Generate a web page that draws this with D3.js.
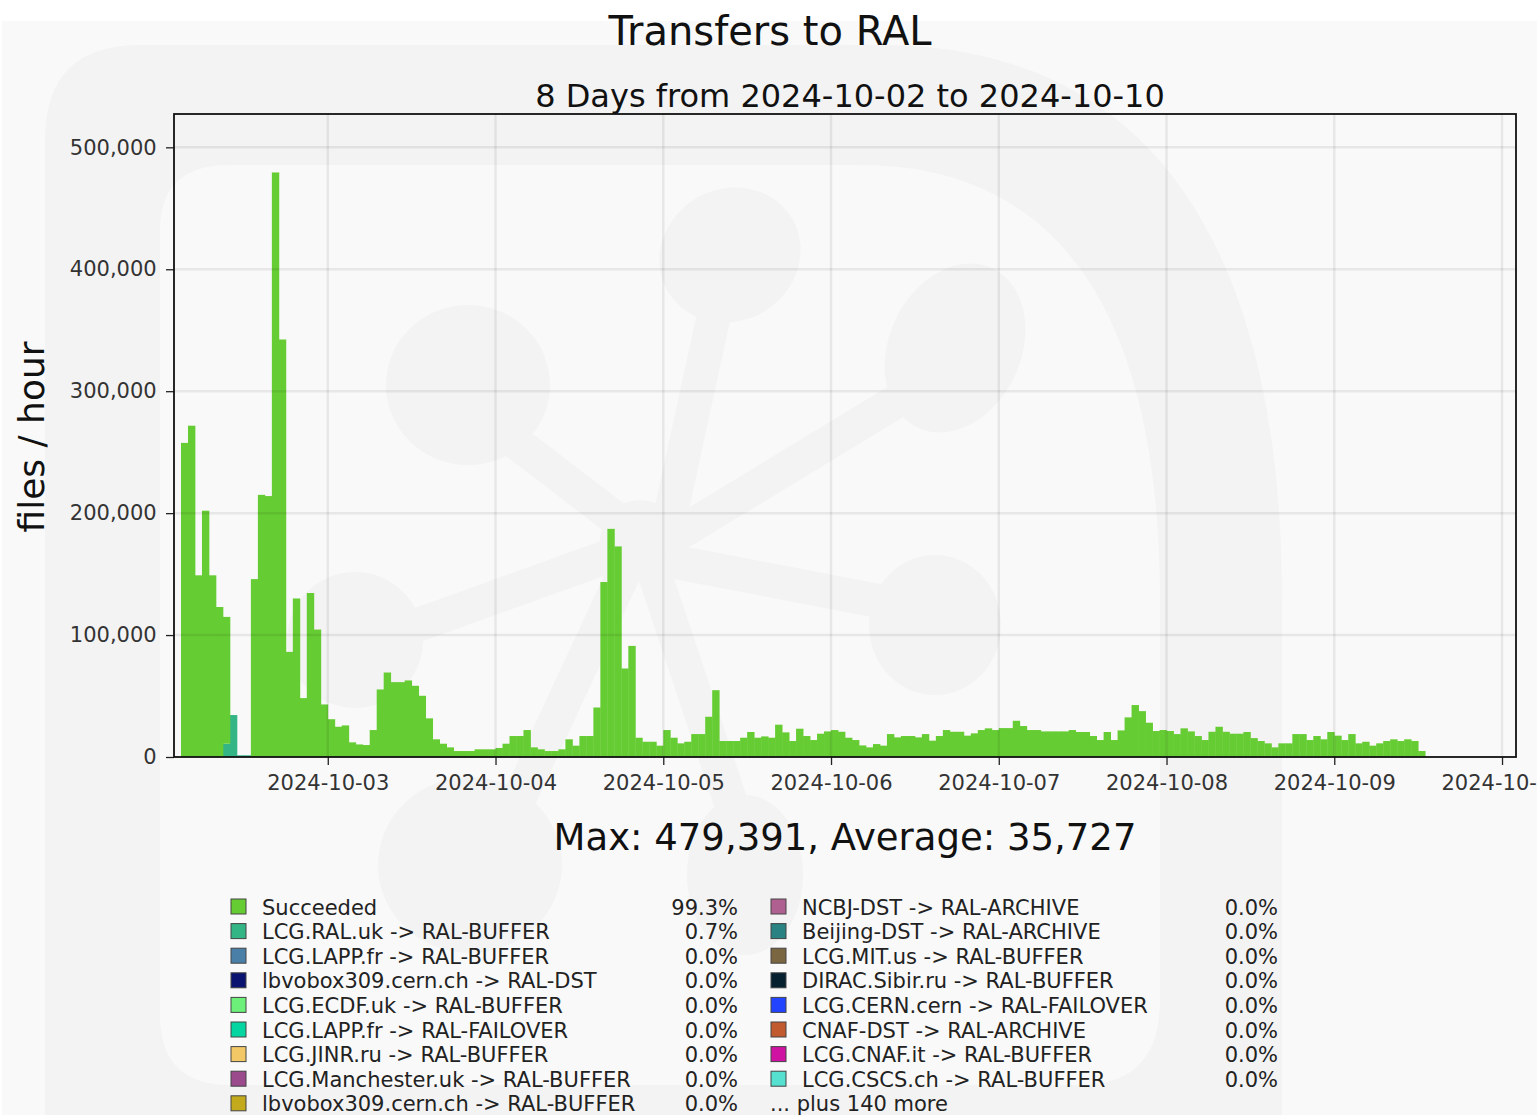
<!DOCTYPE html>
<html>
<head>
<meta charset="utf-8">
<script src="https://cdn.jsdelivr.net/npm/d3@7"></script>
<style>
  body { margin: 0; background: #fff; }
  svg { display: block; font-family: "DejaVu Sans", sans-serif; }
</style>
</head>
<body>
<div id="chart"></div>
<script>
// hourly bins, first bin starts 2024-10-02 03:00 UTC
const firstHour = '2024-10-02T03:00';
const succeeded = [
  257600, 271700, 149000, 202000, 149000, 123000, 104000, 0, 0, 0,
  145900, 215000, 214000, 479391, 342400, 86200, 130000, 48300, 134500, 104500,
  43100, 31000, 24800, 25900, 12000, 10300, 9800, 22100, 55400, 69300,
  61400, 61400, 62800, 58400, 50200, 31700, 14500, 10900, 7900, 4900,
  4900, 4900, 6300, 6300, 6300, 7400, 10900, 17200, 17200, 22100,
  7900, 6300, 4900, 4900, 6300, 14500, 9300, 17200, 17200, 40600,
  143500, 187100, 172700, 72600, 91100, 15800, 12500, 12500, 9300, 22100,
  15800, 11200, 12500, 18800, 18800, 33000, 54800, 13100, 13100, 13100,
  15800, 20500, 15800, 16900, 15800, 26500, 20200, 13100, 23200, 17200,
  13900, 19100, 21000, 22100, 20700, 15800, 13900, 9500, 7900, 10600,
  9300, 18800, 16100, 17200, 17200, 16100, 18800, 13400, 17200, 22100,
  20700, 20700, 17500, 19400, 22100, 23500, 22100, 23700, 23700, 29700,
  25400, 22100, 22100, 21000, 21000, 21000, 21000, 22100, 20500, 20500,
  17200, 13900, 20500, 13900, 21800, 32500, 42600, 37600, 28100, 21300,
  22100, 21300, 18800, 23500, 21000, 17200, 13900, 20700, 24800, 20700,
  19100, 19100, 20500, 15500, 13100, 11200, 7900, 11200, 11200, 18800,
  18800, 13900, 17200, 14500, 20500, 17500, 13900, 18800, 11200, 12500,
  9300, 11200, 13100, 14500, 13100, 14500, 13100, 4900
];
// LCG.RAL.uk -> RAL-BUFFER, only non-zero hours
const ralBufferHours = ['2024-10-02T09:00', '2024-10-02T10:00', '2024-10-02T11:00', '2024-10-02T12:00'];
const ralBuffer = [10900, 34400, 1400, 1400];

const yTicks = [0, 100000, 200000, 300000, 400000, 500000];
const maxValue = 479391, avgValue = 35727;

const legendLeft = [
  ['Succeeded', '99.3%', '#66cc33'],
  ['LCG.RAL.uk -> RAL-BUFFER', '0.7%', '#33b585'],
  ['LCG.LAPP.fr -> RAL-BUFFER', '0.0%', '#4a7fa8'],
  ['lbvobox309.cern.ch -> RAL-DST', '0.0%', '#0a1470'],
  ['LCG.ECDF.uk -> RAL-BUFFER', '0.0%', '#6cf07a'],
  ['LCG.LAPP.fr -> RAL-FAILOVER', '0.0%', '#05d5a0'],
  ['LCG.JINR.ru -> RAL-BUFFER', '0.0%', '#f2c866'],
  ['LCG.Manchester.uk -> RAL-BUFFER', '0.0%', '#9b4a8c'],
  ['lbvobox309.cern.ch -> RAL-BUFFER', '0.0%', '#c2aa1c']
];
const legendRight = [
  ['NCBJ-DST -> RAL-ARCHIVE', '0.0%', '#b06090'],
  ['Beijing-DST -> RAL-ARCHIVE', '0.0%', '#2a8282'],
  ['LCG.MIT.us -> RAL-BUFFER', '0.0%', '#7a6640'],
  ['DIRAC.Sibir.ru -> RAL-BUFFER', '0.0%', '#06202f'],
  ['LCG.CERN.cern -> RAL-FAILOVER', '0.0%', '#2244ff'],
  ['CNAF-DST -> RAL-ARCHIVE', '0.0%', '#c25a30'],
  ['LCG.CNAF.it -> RAL-BUFFER', '0.0%', '#d012a2'],
  ['LCG.CSCS.ch -> RAL-BUFFER', '0.0%', '#55e0d0']
];

const W = 1537, H = 1115;
const margin = { top: 114, right: 21, bottom: 358, left: 174 };
const pw = W - margin.left - margin.right, ph = H - margin.top - margin.bottom;

const parse = d3.utcParse('%Y-%m-%dT%H:%M');
const t0 = parse(firstHour);
const rows = succeeded.map((v, i) => ({ t: d3.utcHour.offset(t0, i), ok: v, ral: 0 }));
ralBufferHours.forEach((h, i) => {
  const r = rows.find(d => +d.t === +parse(h));
  if (r) r.ral = ralBuffer[i];
});

const svg = d3.select('#chart').append('svg')
    .attr('width', W)
    .attr('height', H);

// background + faint logo watermark
svg.append('rect').attr('width', W).attr('height', H).attr('fill', '#ffffff');
svg.append('rect').attr('x', 2).attr('y', 21).attr('width', W - 2).attr('height', H - 21).attr('fill', '#f9f9f9');
const wmColor = '#f3f3f3';
const wm = svg.append('g').attr('fill', wmColor).attr('stroke', 'none');
wm.append('path')
    .attr('fill-rule', 'evenodd')
    .attr('d', 'M45,140 Q45,45 140,45 L880,45 C1160,45 1282,260 1282,600 L1282,1115 L45,1115 Z ' +
               'M160,230 Q160,165 230,165 L860,165 C1070,165 1160,330 1160,600 L1160,1000 Q1160,1085 1080,1085 L230,1085 Q160,1085 160,1015 Z');
[[730, 255, 72, 66, -30], [468, 385, 82, 80, 0], [955, 348, 66, 88, 25], [355, 640, 68, 68, 0],
 [935, 625, 66, 70, 0], [470, 865, 92, 88, 0], [745, 875, 58, 80, 0], [640, 540, 40, 40, 0]]
  .forEach(e => wm.append('ellipse')
    .attr('cx', e[0]).attr('cy', e[1]).attr('rx', e[2]).attr('ry', e[3])
    .attr('transform', `rotate(${e[4]},${e[0]},${e[1]})`));
const wl = svg.append('g').attr('stroke', wmColor).attr('stroke-width', 34).attr('stroke-linecap', 'round');
[[500, 430, 650, 545], [715, 310, 665, 540], [660, 545, 915, 390], [640, 545, 390, 635],
 [665, 560, 925, 610], [630, 560, 500, 840], [650, 560, 740, 830]]
  .forEach(l => wl.append('line').attr('x1', l[0]).attr('y1', l[1]).attr('x2', l[2]).attr('y2', l[3]));

const g = svg.append('g').attr('transform', `translate(${margin.left},${margin.top})`);

const x = d3.scaleUtc()
    .domain([parse('2024-10-02T02:00'), parse('2024-10-10T02:00')])
    .range([0, pw]);
const y = d3.scaleLinear()
    .domain([0, maxValue * 1.1])
    .range([ph, 0]);

// stacked bars: RAL buffer at bottom, succeeded on top
const barW = d => x(d3.utcHour.offset(d.t, 1)) - x(d.t) + 0.4;
g.selectAll('.ral')
    .data(rows.filter(d => d.ral > 0))
    .enter().append('rect')
    .attr('class', 'ral')
    .attr('x', d => x(d.t))
    .attr('y', d => y(d.ral))
    .attr('width', barW)
    .attr('height', d => ph - y(d.ral))
    .style('fill', '#33b585');
g.selectAll('.ok')
    .data(rows.filter(d => d.ok > 0))
    .enter().append('rect')
    .attr('class', 'ok')
    .attr('x', d => x(d.t))
    .attr('y', d => y(d.ral + d.ok))
    .attr('width', barW)
    .attr('height', d => y(d.ral) - y(d.ral + d.ok))
    .style('fill', '#66cc33');

// grid on top, semi transparent like the original
const xTicks = d3.utcDay.range(parse('2024-10-03T00:00'), parse('2024-10-10T12:00'));
g.append('g').selectAll('line')
    .data(xTicks).enter().append('line')
    .attr('x1', d => x(d)).attr('x2', d => x(d))
    .attr('y1', 0).attr('y2', ph)
    .attr('stroke', '#000').attr('stroke-opacity', 0.07).attr('stroke-width', 2.5);
g.append('g').selectAll('line')
    .data(yTicks.slice(1)).enter().append('line')
    .attr('x1', 0).attr('x2', pw)
    .attr('y1', d => y(d)).attr('y2', d => y(d))
    .attr('stroke', '#000').attr('stroke-opacity', 0.07).attr('stroke-width', 2.5);

// axes
const xAxis = g.append('g')
    .attr('transform', `translate(0,${ph})`)
    .call(d3.axisBottom(x).tickValues(xTicks).tickFormat(d3.utcFormat('%Y-%m-%d')).tickSize(8).tickSizeOuter(0));
const yAxis = g.append('g')
    .call(d3.axisLeft(y).tickValues(yTicks).tickFormat(d3.format(',')).tickSize(8).tickSizeOuter(0));
[xAxis, yAxis].forEach(a => {
  a.select('.domain').remove();
  a.selectAll('line').attr('stroke', '#222').attr('stroke-width', 1.3);
  a.selectAll('text').attr('fill', '#333').style('font-size', '21px').style('font-family', '"DejaVu Sans", sans-serif');
});
xAxis.selectAll('text').attr('dy', '1.05em');
yAxis.selectAll('text').attr('dx', '-0.3em');

g.append('rect')
    .attr('width', pw).attr('height', ph)
    .attr('fill', 'none').attr('stroke', '#111').attr('stroke-width', 1.8);

// titles
svg.append('text').attr('x', 770).attr('y', 45).attr('text-anchor', 'middle')
    .style('font-size', '40px').attr('fill', '#111').text('Transfers to RAL');
svg.append('text').attr('x', margin.left + pw / 2 + 5).attr('y', 107).attr('text-anchor', 'middle')
    .style('font-size', '32px').attr('fill', '#111').text('8 Days from 2024-10-02 to 2024-10-10');
svg.append('text')
    .attr('transform', 'translate(44,437) rotate(-90)')
    .attr('text-anchor', 'middle')
    .style('font-size', '36px').attr('fill', '#111').text('files / hour');
svg.append('text').attr('x', margin.left + pw / 2).attr('y', 850).attr('text-anchor', 'middle')
    .style('font-size', '37px').attr('fill', '#111')
    .text(`Max: ${d3.format(',')(maxValue)}, Average: ${d3.format(',')(avgValue)}`);

// legend
const rowH = 24.6, legY = 907;
function legendCol(items, sx, pctX) {
  const lg = svg.append('g');
  items.forEach((it, i) => {
    const cy = legY + i * rowH;
    lg.append('rect').attr('x', sx).attr('y', cy - 8).attr('width', 15).attr('height', 15)
        .attr('fill', it[2]).attr('stroke', '#444').attr('stroke-width', 1);
    lg.append('text').attr('x', sx + 31).attr('y', cy + 7.5)
        .style('font-size', '21px').attr('fill', '#222').text(it[0]);
    lg.append('text').attr('x', pctX).attr('y', cy + 7.5).attr('text-anchor', 'end')
        .style('font-size', '21px').attr('fill', '#222').text(it[1]);
  });
}
legendCol(legendLeft, 231, 738);
legendCol(legendRight, 771, 1278);
svg.append('text').attr('x', 770).attr('y', legY + 8 * rowH + 7.5)
    .style('font-size', '21px').attr('fill', '#222').text('... plus 140 more');
</script>
</body>
</html>
